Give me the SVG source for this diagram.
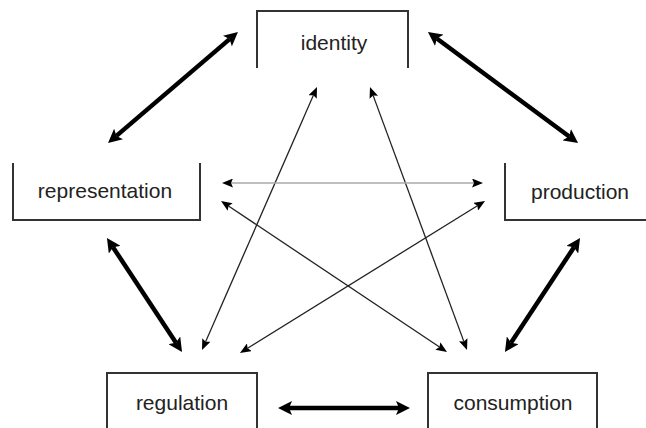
<svg xmlns="http://www.w3.org/2000/svg" width="646" height="428" viewBox="0 0 646 428">
<style>
.box{fill:none;stroke:#333;stroke-width:2}
.lbl{font-family:"Liberation Sans",Arial,sans-serif;font-size:21px;fill:#222;text-anchor:middle}
.thick{stroke:#000;stroke-width:4.5;fill:none;marker-start:url(#hk);marker-end:url(#hk)}
.thin{stroke:#222;stroke-width:1.3;fill:none;marker-start:url(#hn);marker-end:url(#hn)}
.gray{stroke:#aaa;stroke-width:1.6;fill:none;marker-start:url(#hn);marker-end:url(#hn)}
</style>
<defs>
<marker id="hk" viewBox="0 0 14 14" refX="3" refY="7" markerWidth="14" markerHeight="14" markerUnits="userSpaceOnUse" orient="auto-start-reverse">
<path d="M0,0 L14,7 L0,14 L3,7 z" fill="#000"/>
</marker>
<marker id="hn" viewBox="0 0 11 9" refX="2" refY="4.5" markerWidth="11" markerHeight="9" markerUnits="userSpaceOnUse" orient="auto-start-reverse">
<path d="M0,0 L11,4.5 L0,9 L2,4.5 z" fill="#000"/>
</marker>
</defs>
<rect width="646" height="428" fill="#fff"/>
<g id="identity">
<path class="box" d="M257,68 V11 H408 V68"/>
<text class="lbl" x="334" y="50">identity</text>
</g>
<g id="representation">
<path class="box" d="M13,163 V220 H200 V163"/>
<text class="lbl" x="105" y="198">representation</text>
</g>
<g id="production">
<path class="box" d="M505,163 V220 H646"/>
<text class="lbl" x="580" y="199">production</text>
</g>
<g id="regulation">
<path class="box" d="M107,428 V373 H257 V428"/>
<text class="lbl" x="182" y="410">regulation</text>
</g>
<g id="consumption">
<path class="box" d="M428,428 V373 H597 V428"/>
<text class="lbl" x="513" y="410">consumption</text>
</g>
<g id="connectors">
<line class="thick" x1="229.6" y1="39.1" x2="116.4" y2="135.9"/>
<line class="thick" x1="436.8" y1="38.5" x2="569.2" y2="136.5"/>
<line class="thick" x1="113" y1="247.2" x2="176" y2="342.8"/>
<line class="thick" x1="574" y1="247.2" x2="511" y2="342.8"/>
<line class="thick" x1="289" y1="408" x2="399" y2="408"/>
<line class="thin" x1="313.4" y1="95.2" x2="205.6" y2="341.8"/>
<line class="thin" x1="373.1" y1="95.4" x2="463.9" y2="341.6"/>
<line class="gray" x1="231" y1="183" x2="474" y2="183"/>
<line class="thin" x1="228.5" y1="206" x2="439.5" y2="347"/>
<line class="thin" x1="477.4" y1="205.7" x2="247.6" y2="348.3"/>
</g>
</svg>
